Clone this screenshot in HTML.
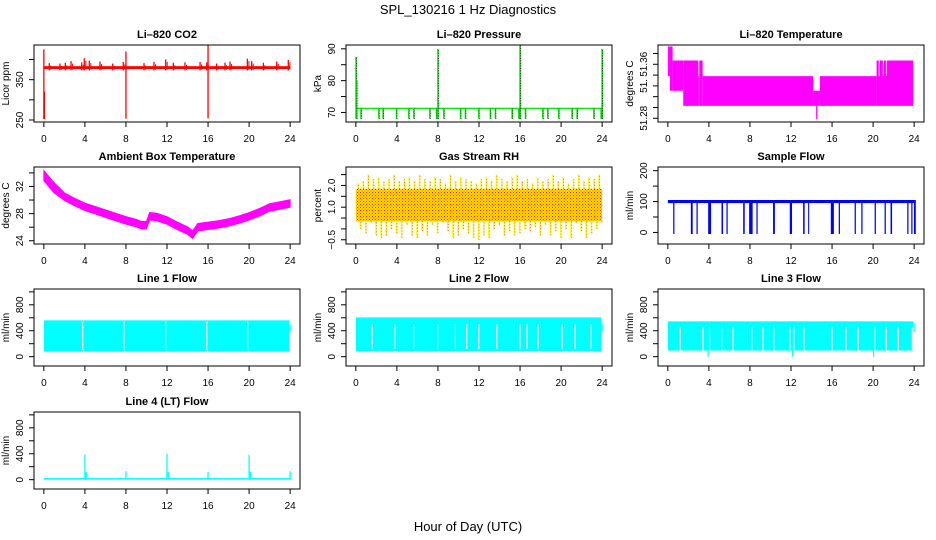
<!DOCTYPE html>
<html><head><meta charset="utf-8"><style>
html,body{margin:0;padding:0;background:#fff;}
svg{display:block;font-family:"Liberation Sans",Arial,sans-serif;}
</style></head><body>
<svg id="c" width="936" height="540" viewBox="0 0 936 540" xmlns="http://www.w3.org/2000/svg">
<defs>
<pattern id="rhpat" width="3" height="3" patternUnits="userSpaceOnUse">
<rect width="3" height="3" fill="#ffdd00"/><rect x="0" y="0" width="1" height="1" fill="#ff2000"/><rect x="1.5" y="1.5" width="1" height="1" fill="#ff6000"/>
</pattern>
</defs>
<text x="468" y="14" font-size="13" text-anchor="middle">SPL_130216  1 Hz Diagnostics</text>
<text x="468" y="531" font-size="13" text-anchor="middle">Hour of Day (UTC)</text>
</svg>
<script>
// ---- data arrays ----
var xTicks=[0,4,8,12,16,20,24];
var co2Base=380;
var co2SpikeT=[0.53,1.57,2.09,2.65,3.69,3.94,4.43,5.47,6.71,7.74,9.76,10.73,11.87,12.62,13.75,15.22,15.87,16.84,17.65,18.14,19.83,20.25,21.39,22.69,23.82];
var co2SpikeV=[391,390,392,396,393,403,397,395,390,394,391,394,400,392,393,394,393,390,392,395,402,396,392,395,399];
var co2BigT=[0,0.05,8,16];
var co2BigLo=[252,252,253,254];
var co2BigHi=[425,320,420,436];
var presBase=71.3;
var presDipT=[0.5,2.24,2.66,3.96,5.16,5.65,7.21,7.86,8.57,10.2,10.68,11.98,13.11,13.6,15.23,15.88,16.53,18.22,18.7,19.77,21.07,21.56,23.19,23.9];
var presSpikeT=[0.02,0.08,8,16,24];
var presSpikeV=[87.5,80,90,91,90];
var tempSegT0=[0,0.2,0.46,1.5,2.97,3.06,3.39,14.17,14.82,20.34,20.55,20.95,21.25];
var tempSegT1=[0.2,0.46,1.5,2.97,3.06,3.39,14.17,14.82,20.34,23.91,20.62,21.02,21.32];
var tempSegLo=[51.358,51.331,51.331,51.303,51.303,51.303,51.303,51.303,51.303,51.303,51.358,51.358,51.358];
var tempSegHi=[51.413,51.413,51.387,51.387,51.358,51.387,51.358,51.331,51.358,51.387,51.387,51.387,51.387];
var ambT=[0,1,2,3,4,5,6,7,8,9,9.5,10,10.3,11,12,13,14,14.5,15,16,17,18,19,20,21,22,23,24];
var ambV=[33.6,31.8,30.5,29.7,29.0,28.5,28.0,27.5,27.0,26.6,26.3,26.3,27.6,27.5,27.0,26.2,25.5,24.9,26.0,26.2,26.4,26.7,27.1,27.6,28.2,28.9,29.2,29.5];
var rhHigh=[2.1,2.2,2.5,2.3,2.4,2.2,2.3,2.5,2.2,2.3,2.4,2.2,2.5,2.3,2.2,2.4,2.3,2.1,2.5,2.2,2.4,2.3,2.2,2.1,2.3,2.4,2.2,2.5,2.3,2.2,2.4,2.5,2.2,2.3,2.1,2.4,2.2,2.3,2.5,2.2,2.4,2.1,2.3,2.5,2.2,2.4,2.3,2.5];
var rhLow=[0.0,-0.2,0.3,-0.3,-0.4,-0.3,0.0,-0.2,-0.4,0.2,-0.3,-0.4,-0.1,-0.3,0.2,-0.2,0.3,-0.1,-0.4,-0.3,0.0,-0.2,-0.4,-0.5,-0.3,-0.4,0.0,0.2,-0.3,-0.1,-0.3,-0.2,0.0,-0.1,0.1,-0.3,0.2,-0.3,-0.1,-0.4,0.0,-0.4,0.3,-0.1,-0.4,-0.2,0.0,0.3];
var rhCoreLo=0.35, rhCoreHi=1.85;
var sfBaseLo=95, sfBaseHi=105;
var sfDropT=[0.52,2.24,2.79,3.93,5.23,5.71,7.34,7.92,8.08,8.63,10.25,11.88,13.18,13.67,15.88,16.0,16.65,18.2,18.85,20.15,21.12,21.7,23.33,23.72,23.98];
var sfDropW=[0.12,0.18,0.12,0.28,0.15,0.12,0.15,0.18,0.18,0.12,0.18,0.22,0.15,0.1,0.22,0.18,0.12,0.12,0.12,0.12,0.12,0.15,0.12,0.12,0.18];
var l1Lo=80, l1Hi=560;
var l1GapT=[3.78,7.81,11.87,15.87,19.86];
var l2Lo=88, l2Hi=606;
var l2GapT=[1.59,3.82,5.63,7.97,9.7,10.8,11.97,13.73,16.0,16.67,17.76,20.1,21.35,22.92];
var l3Lo=95, l3Hi=545;
var l3GapT=[1.21,3.41,4.07,5.24,6.34,8.18,9.27,10.33,11.9,12.28,13.27,16.0,17.37,18.55,20.2,21.29,22.46,23.83];
var l3GapDown=[0,0,1,0,0,0,0,0,0,1,0,0,0,0,1,0,0,0];
var l4Lo=0, l4Hi=25;
var l4SpikeT=[4,4.12,8,12,12.12,16,20,20.12,24];
var l4SpikeV=[390,120,130,400,120,120,385,120,130];

var NS="http://www.w3.org/2000/svg";
var svg=document.getElementById('c');
function mk(tag,at,parent){var e=document.createElementNS(NS,tag);for(var k in at)e.setAttribute(k,at[k]);(parent||svg).appendChild(e);return e;}
var rowT=[45,167,289,412];

function panel(name,col,row,title,ylab,ymin,ymax,yt,yl){
  var L=34+312*col,R=L+266,T=rowT[row],B=T+77;
  var g=mk('g',{});
  
  
  var xs=function(t){return L+(t+0.96)*(266/25.92);};
  var ys=function(v){return B-(v-ymin)/(ymax-ymin)*77;};
  var clip=mk('clipPath',{id:'cl'+name},g);mk('rect',{x:L,y:T,width:266,height:77},clip);
  var plot=mk('g',{'clip-path':'url(#cl'+name+')'},g);
  
  
  var box=mk('rect',{x:L,y:T,width:266,height:77,fill:'none',stroke:'#000','stroke-width':1},g);
  
  
  var tt=mk('text',{x:(L+R)/2,y:T-7,'font-size':11,'font-weight':'bold','text-anchor':'middle'},g);tt.textContent=title;
  
  
  var xa=mk('g',{},g);
  
  
  mk('line',{x1:xs(0),x2:xs(24),y1:B,y2:B,stroke:'#000'},xa);
  xTicks.forEach(function(t){mk('line',{x1:xs(t),x2:xs(t),y1:B,y2:B+5,stroke:'#000'},xa);
    var tx=mk('text',{x:xs(t),y:B+20,'font-size':10,'text-anchor':'middle'},xa);tx.textContent=t;
    
    });
  var ya=mk('g',{},g);
  
  
  mk('line',{x1:L,x2:L,y1:ys(yt[0]),y2:ys(yt[yt.length-1]),stroke:'#000'},ya);
  yt.forEach(function(v,i){var y=ys(v);mk('line',{x1:L-5,x2:L,y1:y,y2:y,stroke:'#000'},ya);
    if(yl[i]){var tx=mk('text',{x:L-11,y:y,'font-size':10,'text-anchor':'middle',transform:'rotate(-90 '+(L-11)+' '+y+')'},ya);tx.textContent=yl[i];
    
    }});
  var yx=L-25,yc=(T+B)/2;
  var yt2=mk('text',{x:yx,y:yc,'font-size':10,'text-anchor':'middle',transform:'rotate(-90 '+yx+' '+yc+')'},g);yt2.textContent=ylab;
  
  
  return {xs:xs,ys:ys,g:plot};
}
function vline(p,t,v0,v1,col,w,name){var e=mk('line',{x1:p.xs(t),x2:p.xs(t),y1:p.ys(v0),y2:p.ys(v1),stroke:col,'stroke-width':w||1},p.g);
  
  return e;}
function band(p,t0,t1,v0,v1,col,name){var x0=p.xs(t0),x1=p.xs(t1),y0=p.ys(v1),y1=p.ys(v0);
  var e=mk('rect',{x:x0,y:y0,width:Math.max(0.8,x1-x0),height:Math.max(1,y1-y0),fill:col},p.g);
  
  return e;}

// CO2
var p=panel('co2',0,0,'Li\u2013820 CO2','Licor ppm',245,436,[250,300,350,400],['250','','350','']);
band(p,0,24,co2Base-3.5,co2Base+3.5,'#ff0000','co2-baseline');
co2SpikeT.forEach(function(t,i){vline(p,t,373,co2SpikeV[i],'#ff0000',1.3,'co2-spike');vline(p,t+0.15,375,co2SpikeV[i]-6,'#ff0000',1,'co2-spike');});
co2BigT.forEach(function(t,i){vline(p,t,co2BigLo[i],co2BigHi[i],'#ff0000',1.3,'co2-outlier');});

// Pressure
p=panel('pres',1,0,'Li\u2013820 Pressure','kPa',67,91.2,[70,75,80,85,90],['70','','80','','90']);
band(p,0,24,presBase-0.2,presBase+0.2,'#00ee00','pressure-baseline');
presDipT.forEach(function(t){vline(p,t,68,presBase,'#00dd00',1.5,'pressure-dip');vline(p,t+0.05,68,presBase,'#000',0.6,'pressure-dip-dots').setAttribute('stroke-dasharray','1 1.5');});
presSpikeT.forEach(function(t,i){vline(p,t,68,presSpikeV[i],'#00dd00',1.5,'pressure-spike');vline(p,t+0.04,68,presSpikeV[i],'#000',0.7,'pressure-spike-dots').setAttribute('stroke-dasharray','1 1.5');});

// Li-820 temp
p=panel('temp',2,0,'Li\u2013820 Temperature','degrees C',51.2731,51.4157,[51.28,51.30,51.32,51.34,51.36,51.38,51.40],['51.28','','','51.','','51.36','']);
tempSegT0.forEach(function(t,i){band(p,t,tempSegT1[i],tempSegLo[i],tempSegHi[i],(i>=10?'#ffffff':'#ff00ff'),'temp-segment');});
band(p,14.45,14.57,51.278,51.331,'#ff00ff','temp-dip');

// Ambient
p=panel('amb',0,1,'Ambient Box Temperature','degrees C',23.52,34.87,[24,26,28,30,32,34],['24','','28','','32','']);
var ambTop='',ambBot='';
ambT.forEach(function(t,k){var hw=k<2?0.75:0.55;ambTop+=(k?'L':'M')+p.xs(t)+' '+p.ys(ambV[k]+hw);});
for(var j=ambT.length-1;j>=0;j--){var hw2=j<2?0.75:0.55;ambBot+='L'+p.xs(ambT[j])+' '+p.ys(ambV[j]-hw2);}
var ap=mk('path',{d:ambTop+ambBot+'Z',fill:'#ff00ff',stroke:'#ff00ff','stroke-width':1},p.g);



// RH
p=panel('rh',1,1,'Gas Stream RH','percent',-0.695,2.85,[-0.5,0,0.5,1,1.5,2,2.5],['\u22120.5','','','1.0','','2.0','']);
band(p,0,24,rhCoreLo,rhCoreHi,'url(#rhpat)','rh-core');
rhHigh.forEach(function(v,i){var t=i*0.5+0.2;vline(p,t,rhCoreHi,v,'#ffff00',1.5,'rh-spike-high');vline(p,t+0.05,rhCoreHi,v,'#ff2000',0.7,'rh-dots').setAttribute('stroke-dasharray','1 2');
  vline(p,t+0.25,rhLow[i],rhCoreLo,'#ffff00',1.5,'rh-spike-low');vline(p,t+0.3,rhLow[i],rhCoreLo,'#ff2000',0.7,'rh-dots').setAttribute('stroke-dasharray','1 2');});

// Sample flow
p=panel('sf',2,1,'Sample Flow','ml/min',-37.4,211.8,[0,50,100,150,200],['0','','100','','200']);
band(p,0,24,sfBaseLo,sfBaseHi,'#0000ff','sample-flow-baseline');
sfDropT.forEach(function(t,i){band(p,t,t+sfDropW[i],-5,sfBaseHi,'#0000ff','sample-flow-drop');});

// Line flows
var fT=[0,200,400,600,800,1000],fL=['0','','400','','800',''];
p=panel('l1',0,2,'Line 1 Flow','ml/min',-144,1044,fT,fL);
band(p,0,23.9,l1Lo,l1Hi,'#00ffff','line1-band');
band(p,23.95,24.05,380,500,'#00ffff','line1-end');
l1GapT.forEach(function(t){vline(p,t,100,l1Hi-20,'#ffffff',1.2,'line1-gap');});
p=panel('l2',1,2,'Line 2 Flow','ml/min',-144,1044,fT,fL);
band(p,0,23.9,l2Lo,l2Hi,'#00ffff','line2-band');
band(p,23.95,24.05,390,520,'#00ffff','line2-end');
l2GapT.forEach(function(t){vline(p,t,120,500,'#ffffff',1.2,'line2-gap');});
p=panel('l3',2,2,'Line 3 Flow','ml/min',-144,1044,fT,fL);
band(p,0,23.9,l3Lo,l3Hi,'#00ffff','line3-band');
band(p,23.95,24.05,380,520,'#00ffff','line3-end');
l3GapT.forEach(function(t,i){vline(p,t,100,450,'#ffffff',1.2,'line3-gap');if(l3GapDown[i])vline(p,t-0.15,0,100,'#00ffff',1.2,'line3-drop');});
p=panel('l4',0,3,'Line 4 (LT) Flow','ml/min',-144,1044,fT,fL);
band(p,0,24,l4Lo,l4Hi,'#00ffff','line4-baseline');
l4SpikeT.forEach(function(t,i){vline(p,t,0,l4SpikeV[i],'#00ffff',1.3,'line4-spike');});
</script>
</body></html>
